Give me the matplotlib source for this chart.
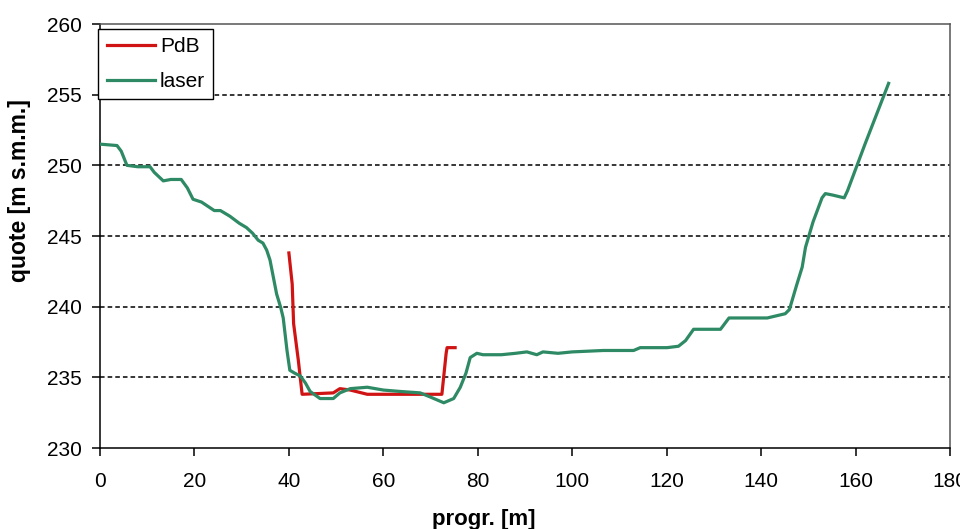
import numpy as np
import matplotlib
matplotlib.use("Agg")
import matplotlib.pyplot as plt

plt.rcParams["font.family"] = ["Liberation Sans", "DejaVu Sans"]

# surveyed cross-section: progressive distance [m] vs elevation [m s.m.m.]
laser_x = [0, 3.6, 4.5, 5.7, 8, 10.6, 11.5, 13.4, 15, 17.2, 18.5, 19.7, 21.5,
           24.2, 25.5, 27.5, 29.5, 31, 32.3, 33.5, 34.5, 35.3, 36, 37.4, 38.3,
           38.8, 39.6, 40.2, 41.2, 42.4, 43.5, 44.5, 46.6, 49.4, 50.8, 53,
           56.6, 60, 63.6, 67.8, 70, 72.8, 74.9, 76.3, 77.5, 78.4, 79.8, 81.1,
           85, 88, 90.4, 92.5, 93.8, 97, 100, 106.6, 113, 114.4, 120.1, 122.5,
           124, 125.7, 126.5, 131.4, 133.2, 141.3, 145.1, 146, 147.5, 148.7,
           149.4, 151, 152.9, 153.6, 155.1, 157.6, 158.3, 162, 167]
laser_y = [251.5, 251.4, 251.0, 250.0, 249.9, 249.9, 249.5, 248.9, 249.0,
           249.0, 248.4, 247.6, 247.4, 246.8, 246.8, 246.4, 245.9, 245.6,
           245.2, 244.7, 244.5, 244.0, 243.3, 240.9, 239.9, 239.2, 236.9,
           235.5, 235.3, 235.1, 234.6, 234.0, 233.5, 233.5, 233.9, 234.2,
           234.3, 234.1, 234.0, 233.9, 233.6, 233.2, 233.5, 234.3, 235.3,
           236.4, 236.7, 236.6, 236.6, 236.7, 236.8, 236.6, 236.8, 236.7,
           236.8, 236.9, 236.9, 237.1, 237.1, 237.2, 237.6, 238.4, 238.4,
           238.4, 239.2, 239.2, 239.5, 239.8, 241.5, 242.8, 244.2, 246.0,
           247.7, 248.0, 247.9, 247.7, 248.2, 251.5, 255.8]

pdb_x = [40, 40.7, 41, 42, 42.8, 49.4, 50.8, 53, 56.6, 72.4, 73.3, 73.5, 75.2]
pdb_y = [243.8, 241.6, 238.8, 236.2, 233.8, 233.9, 234.2, 234.1, 233.8,
         233.8, 236.7, 237.1, 237.1]

xticks = np.arange(0, 181, 20)
yticks = np.arange(230, 261, 5)

fig = plt.figure(figsize=(9.6, 5.29), dpi=100)
ax = fig.add_axes([100 / 960, 1 - 448 / 529, 850 / 960, 424 / 529])

ax.plot(pdb_x, pdb_y, color="#d01414", lw=2.3, label="PdB", zorder=3)
ax.plot(laser_x, laser_y, color="#2e8a64", lw=2.3, label="laser", zorder=3)

ax.set_xlim(0, 180)
ax.set_ylim(230, 260)
ax.set_xticks(xticks)
ax.set_yticks(yticks)
ax.tick_params(axis="both", direction="out", length=6, width=1.1,
               labelsize=15, colors="black")
ax.tick_params(axis="x", pad=11)
ax.tick_params(axis="y", pad=7)

# dotted horizontal gridlines, only between the frame edges
for y in yticks[1:-1]:
    ax.axhline(y, color="black", lw=1.1, dashes=(3, 2), zorder=1)

for side in ("left", "bottom"):
    ax.spines[side].set_color("black")
    ax.spines[side].set_linewidth(1.1)
for side in ("top", "right"):
    ax.spines[side].set_color("#555555")
    ax.spines[side].set_linewidth(1.1)

leg = ax.legend(loc="upper left", bbox_to_anchor=(-0.002, 0.988),
                borderaxespad=0, fontsize=15, handlelength=2.3,
                handletextpad=0.25, labelspacing=0.75, borderpad=0.4,
                fancybox=False, framealpha=1, edgecolor="black")
leg.get_frame().set_linewidth(1.0)

fig.text(484 / 960, 1 - 519 / 529, "progr. [m]", ha="center", va="center",
         fontsize=16, fontweight="bold")
fig.text(20 / 960, 1 - 191 / 529, "quote [m s.m.m.]", ha="center",
         va="center", rotation=90, fontsize=16.5, fontweight="bold")

fig.savefig("out.png", dpi=100)
